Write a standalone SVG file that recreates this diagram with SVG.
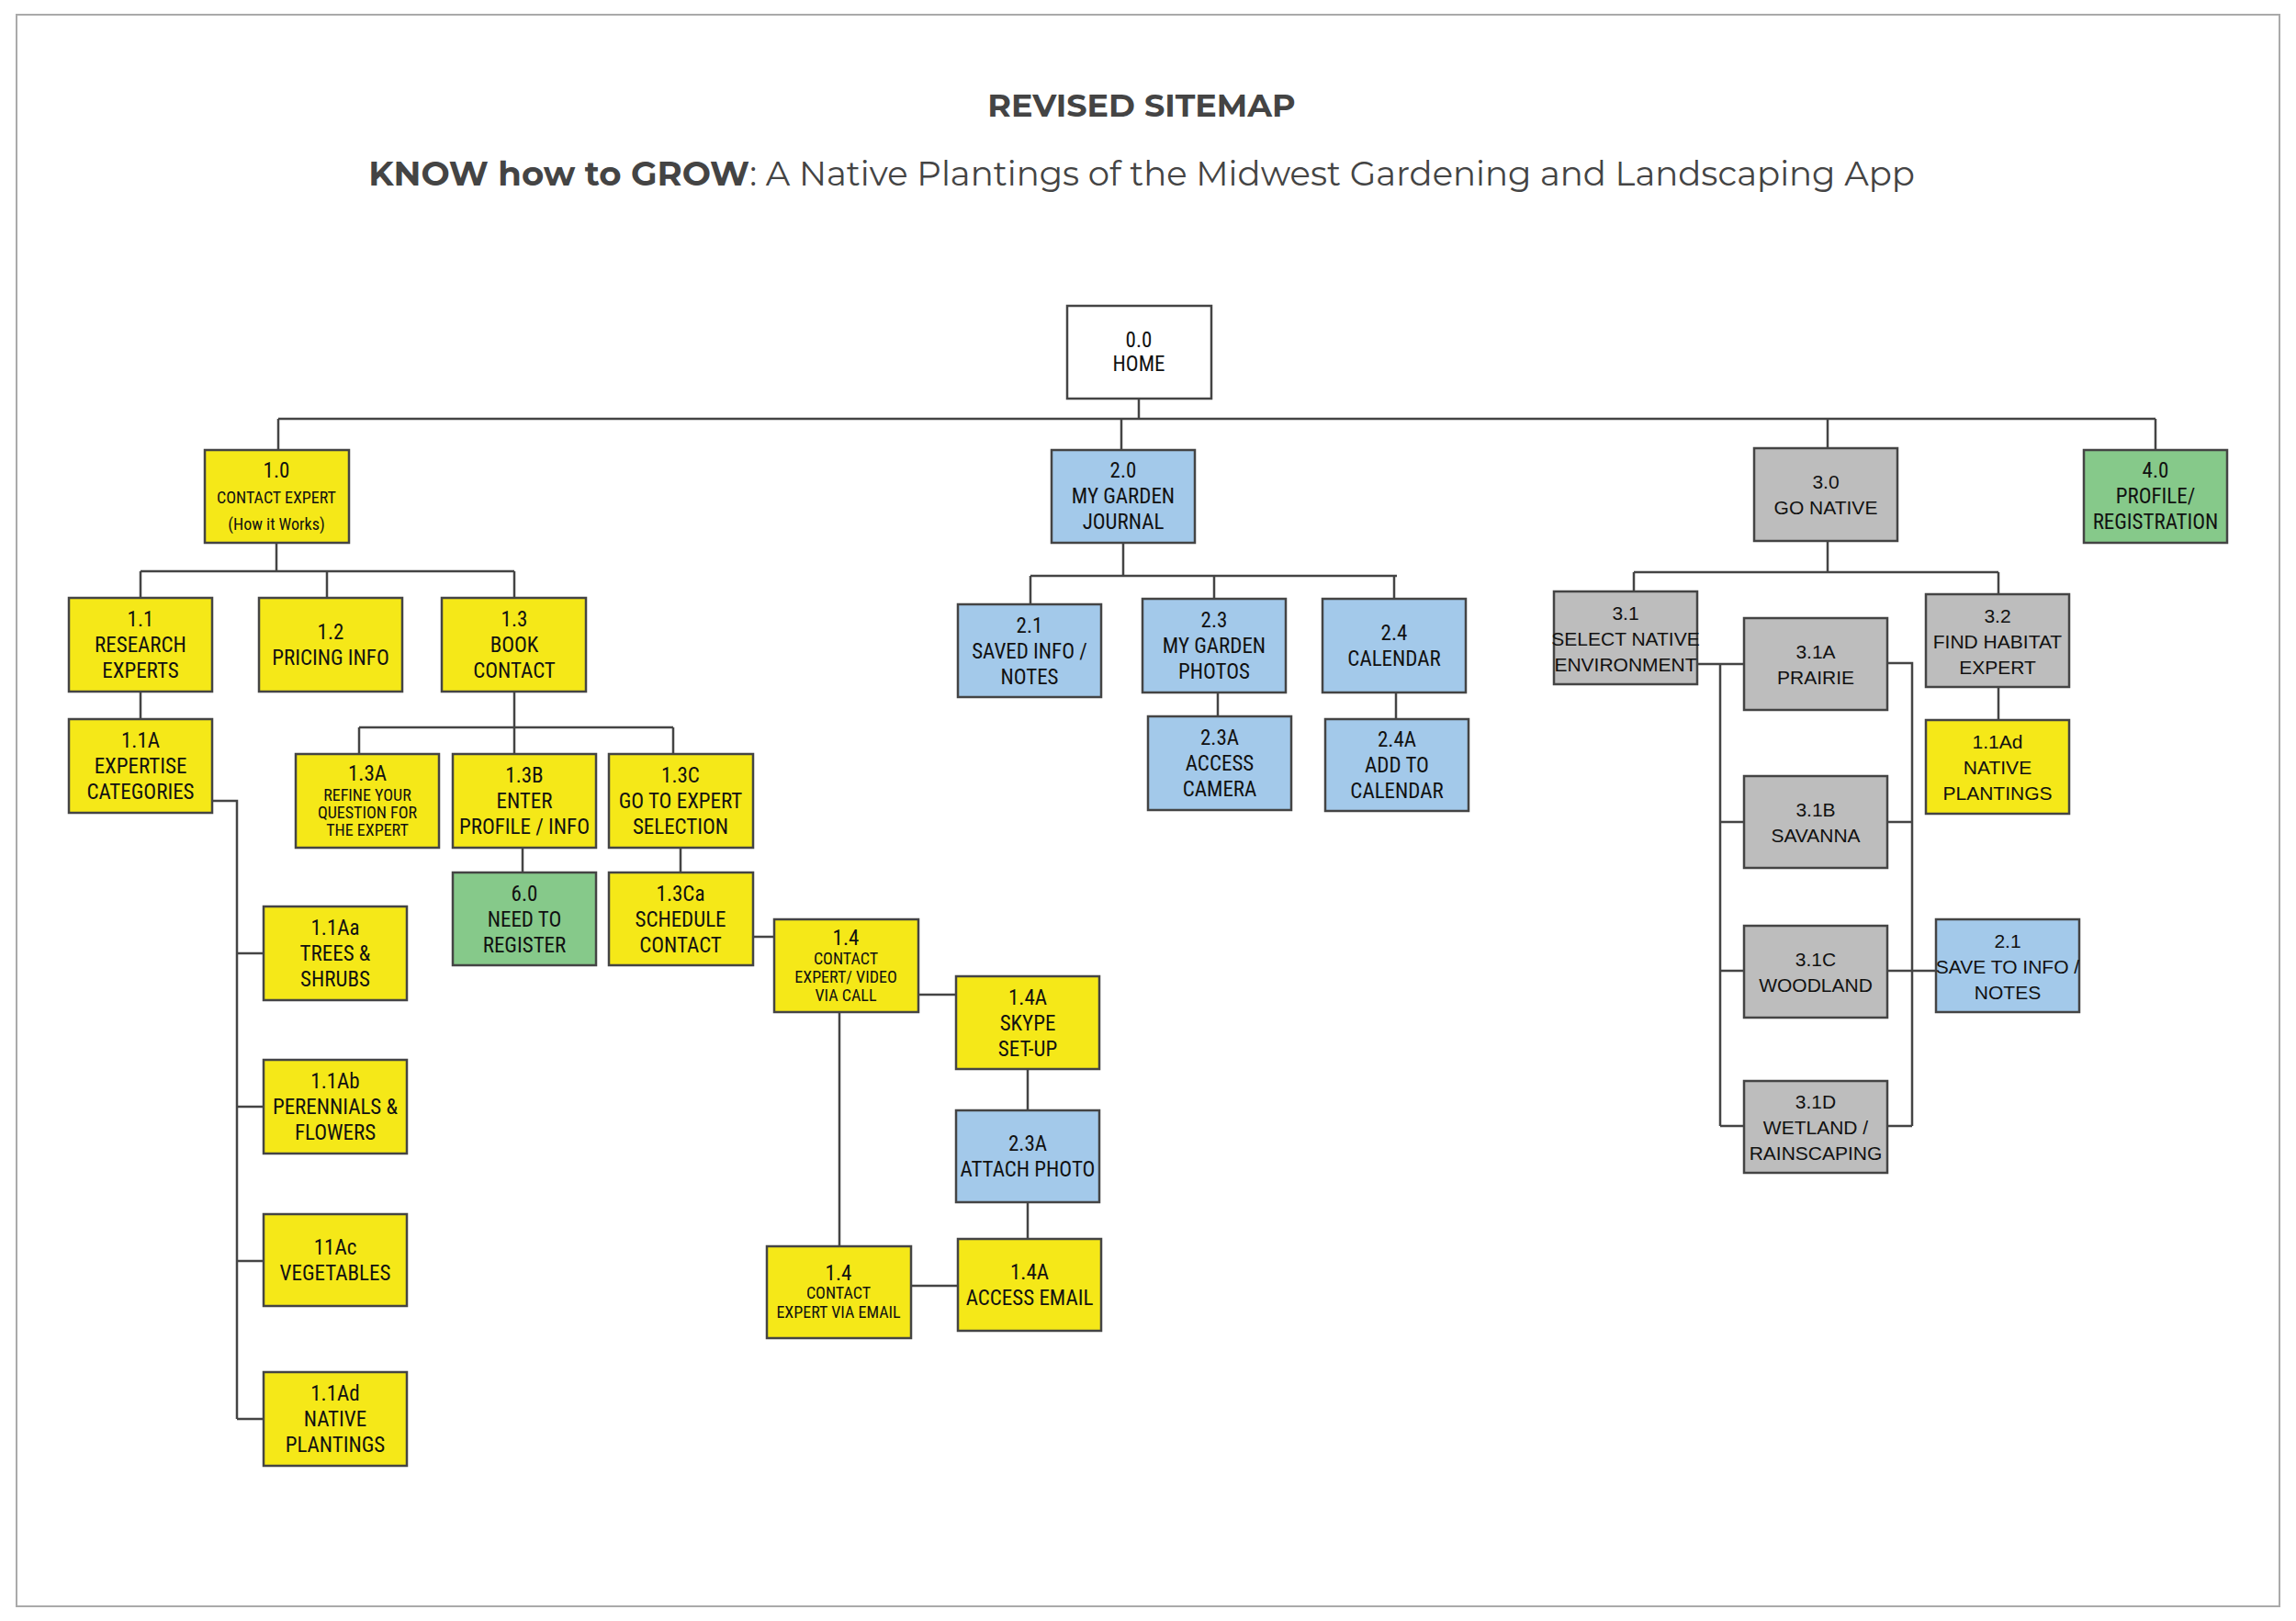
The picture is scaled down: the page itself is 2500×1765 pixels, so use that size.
<svg xmlns="http://www.w3.org/2000/svg" width="2500" height="1765" viewBox="0 0 2500 1765">
<style>
.n rect{stroke:#444;stroke-width:2.5}
.y rect{fill:#f5e818}.b rect{fill:#a3c9ea}.g rect{fill:#bdbdbd}.gr rect{fill:#86c98a}.w rect{fill:#fff}
.n text{font-family:"Liberation Sans Narrow","Roboto Condensed","DejaVu Sans Condensed",sans-serif;font-size:23px;fill:#111;text-anchor:middle;dominant-baseline:central}
.r text{font-family:"Liberation Sans",Arial,sans-serif;font-size:21px}
.n text.s{font-size:18px}
#conn path{fill:none;stroke:#444;stroke-width:2.5}
.t{font-family:"Montserrat","Open Sans","Lato",sans-serif;fill:#444;text-anchor:middle}
</style>
<rect x="18" y="16" width="2464" height="1733" fill="#fff" stroke="#aaa" stroke-width="2"/>
<text class="t" x="1243" y="127" font-size="35" font-weight="bold">REVISED SITEMAP</text>
<text class="t" x="1243" y="202" font-size="37"><tspan font-weight="bold">KNOW how to GROW</tspan>: A Native Plantings of the Midwest Gardening and Landscaping App</text>
<g id="conn">
<path d="M1240 434V456M303 456H2347M303 456V490M1221 456V490M1990 456V488M2347 456V490"/>
<path d="M301 590V622M153 622H560M153 622V651M356 622V651M560 622V651"/>
<path d="M153 753V783M231 872H258V1545M258 1038H287M258 1205H287M258 1373H287M258 1545H287"/>
<path d="M560 753V821M391 792H733M391 792V821M733 792V821M569 923V950M741 923V950M820 1020H843M1000 1083H1041M1119 1164V1209M1119 1309V1349M914 1102V1357M992 1400H1043"/>
<path d="M1223 590V627M1122 627H1521M1122 627V658M1322 627V652M1518 627V652M1326 754V780M1520 754V783"/>
<path d="M1990 588V623M1779 623H2176M1779 623V644M2176 623V647M2176 748V784"/>
<path d="M1848 723H1899M1873 723V1226M1873 895H1899M1873 1057H1899M1873 1226H1899M2055 722H2082V1226M2055 895H2082M2055 1057H2108M2055 1226H2082"/>
</g>
<g id="n00" class="n w"><rect x="1162" y="333" width="157" height="101"/><text x="1240" y="370">0.0</text><text x="1240" y="396">HOME</text></g>
<g id="n10" class="n y"><rect x="223" y="490" width="157" height="101"/><text x="301" y="512">1.0</text><text class="s" x="301" y="541">CONTACT EXPERT</text><text class="s" x="301" y="570">(How it Works)</text></g>
<g id="n20" class="n b"><rect x="1145" y="490" width="156" height="101"/><text x="1223" y="512">2.0</text><text x="1223" y="540">MY GARDEN</text><text x="1223" y="568">JOURNAL</text></g>
<g id="n30" class="n g r"><rect x="1910" y="488" width="156" height="101"/><text x="1988" y="524">3.0</text><text x="1988" y="552">GO NATIVE</text></g>
<g id="n40" class="n gr"><rect x="2269" y="490" width="156" height="101"/><text x="2347" y="512">4.0</text><text x="2347" y="540">PROFILE/</text><text x="2347" y="568">REGISTRATION</text></g>
<g id="n11" class="n y"><rect x="75" y="651" width="156" height="102"/><text x="153" y="674">1.1</text><text x="153" y="702">RESEARCH</text><text x="153" y="730">EXPERTS</text></g>
<g id="n12" class="n y"><rect x="282" y="651" width="156" height="102"/><text x="360" y="688">1.2</text><text x="360" y="716">PRICING INFO</text></g>
<g id="n13" class="n y"><rect x="481" y="651" width="157" height="102"/><text x="560" y="674">1.3</text><text x="560" y="702">BOOK</text><text x="560" y="730">CONTACT</text></g>
<g id="n11A" class="n y"><rect x="75" y="783" width="156" height="102"/><text x="153" y="806">1.1A</text><text x="153" y="834">EXPERTISE</text><text x="153" y="862">CATEGORIES</text></g>
<g id="n11Aa" class="n y"><rect x="287" y="987" width="156" height="102"/><text x="365" y="1010">1.1Aa</text><text x="365" y="1038">TREES &amp;</text><text x="365" y="1066">SHRUBS</text></g>
<g id="n11Ab" class="n y"><rect x="287" y="1154" width="156" height="102"/><text x="365" y="1177">1.1Ab</text><text x="365" y="1205">PERENNIALS &amp;</text><text x="365" y="1233">FLOWERS</text></g>
<g id="n11Ac" class="n y"><rect x="287" y="1322" width="156" height="100"/><text x="365" y="1358">11Ac</text><text x="365" y="1386">VEGETABLES</text></g>
<g id="n11Ad" class="n y"><rect x="287" y="1494" width="156" height="102"/><text x="365" y="1517">1.1Ad</text><text x="365" y="1545">NATIVE</text><text x="365" y="1573">PLANTINGS</text></g>
<g id="n13A" class="n y"><rect x="322" y="821" width="156" height="102"/><text x="400" y="842">1.3A</text><text class="s" x="400" y="865">REFINE YOUR</text><text class="s" x="400" y="884">QUESTION FOR</text><text class="s" x="400" y="903">THE EXPERT</text></g>
<g id="n13B" class="n y"><rect x="493" y="821" width="156" height="102"/><text x="571" y="844">1.3B</text><text x="571" y="872">ENTER</text><text x="571" y="900">PROFILE / INFO</text></g>
<g id="n13C" class="n y"><rect x="663" y="821" width="157" height="102"/><text x="741" y="844">1.3C</text><text x="741" y="872">GO TO EXPERT</text><text x="741" y="900">SELECTION</text></g>
<g id="n60" class="n gr"><rect x="493" y="950" width="156" height="101"/><text x="571" y="973">6.0</text><text x="571" y="1001">NEED TO</text><text x="571" y="1029">REGISTER</text></g>
<g id="n13Ca" class="n y"><rect x="663" y="950" width="157" height="101"/><text x="741" y="973">1.3Ca</text><text x="741" y="1001">SCHEDULE</text><text x="741" y="1029">CONTACT</text></g>
<g id="n14call" class="n y"><rect x="843" y="1001" width="157" height="101"/><text x="921" y="1021">1.4</text><text class="s" x="921" y="1043">CONTACT</text><text class="s" x="921" y="1063">EXPERT/ VIDEO</text><text class="s" x="921" y="1083">VIA CALL</text></g>
<g id="n14A" class="n y"><rect x="1041" y="1063" width="156" height="101"/><text x="1119" y="1086">1.4A</text><text x="1119" y="1114">SKYPE</text><text x="1119" y="1142">SET-UP</text></g>
<g id="n23Aattach" class="n b"><rect x="1041" y="1209" width="156" height="100"/><text x="1119" y="1245">2.3A</text><text x="1119" y="1273">ATTACH PHOTO</text></g>
<g id="n14Aemail" class="n y"><rect x="1043" y="1349" width="156" height="100"/><text x="1121" y="1385">1.4A</text><text x="1121" y="1413">ACCESS EMAIL</text></g>
<g id="n14email" class="n y"><rect x="835" y="1357" width="157" height="100"/><text x="913" y="1386">1.4</text><text class="s" x="913" y="1407">CONTACT</text><text class="s" x="913" y="1428">EXPERT VIA EMAIL</text></g>
<g id="n21" class="n b"><rect x="1043" y="658" width="156" height="101"/><text x="1121" y="681">2.1</text><text x="1121" y="709">SAVED INFO /</text><text x="1121" y="737">NOTES</text></g>
<g id="n23" class="n b"><rect x="1244" y="652" width="156" height="102"/><text x="1322" y="675">2.3</text><text x="1322" y="703">MY GARDEN</text><text x="1322" y="731">PHOTOS</text></g>
<g id="n24" class="n b"><rect x="1440" y="652" width="156" height="102"/><text x="1518" y="689">2.4</text><text x="1518" y="717">CALENDAR</text></g>
<g id="n23A" class="n b"><rect x="1250" y="780" width="156" height="102"/><text x="1328" y="803">2.3A</text><text x="1328" y="831">ACCESS</text><text x="1328" y="859">CAMERA</text></g>
<g id="n24A" class="n b"><rect x="1443" y="783" width="156" height="100"/><text x="1521" y="805">2.4A</text><text x="1521" y="833">ADD TO</text><text x="1521" y="861">CALENDAR</text></g>
<g id="n31" class="n g r"><rect x="1692" y="644" width="156" height="101"/><text x="1770" y="667">3.1</text><text x="1770" y="695">SELECT NATIVE</text><text x="1770" y="723">ENVIRONMENT</text></g>
<g id="n32" class="n g r"><rect x="2097" y="647" width="156" height="101"/><text x="2175" y="670">3.2</text><text x="2175" y="698">FIND HABITAT</text><text x="2175" y="726">EXPERT</text></g>
<g id="n11Ad2" class="n y r"><rect x="2097" y="784" width="156" height="102"/><text x="2175" y="807">1.1Ad</text><text x="2175" y="835">NATIVE</text><text x="2175" y="863">PLANTINGS</text></g>
<g id="n31A" class="n g r"><rect x="1899" y="673" width="156" height="100"/><text x="1977" y="709">3.1A</text><text x="1977" y="737">PRAIRIE</text></g>
<g id="n31B" class="n g r"><rect x="1899" y="845" width="156" height="100"/><text x="1977" y="881">3.1B</text><text x="1977" y="909">SAVANNA</text></g>
<g id="n31C" class="n g r"><rect x="1899" y="1008" width="156" height="100"/><text x="1977" y="1044">3.1C</text><text x="1977" y="1072">WOODLAND</text></g>
<g id="n31D" class="n g r"><rect x="1899" y="1177" width="156" height="100"/><text x="1977" y="1199">3.1D</text><text x="1977" y="1227">WETLAND /</text><text x="1977" y="1255">RAINSCAPING</text></g>
<g id="n21save" class="n b r"><rect x="2108" y="1001" width="156" height="101"/><text x="2186" y="1024">2.1</text><text x="2186" y="1052">SAVE TO INFO /</text><text x="2186" y="1080">NOTES</text></g>
</svg>
